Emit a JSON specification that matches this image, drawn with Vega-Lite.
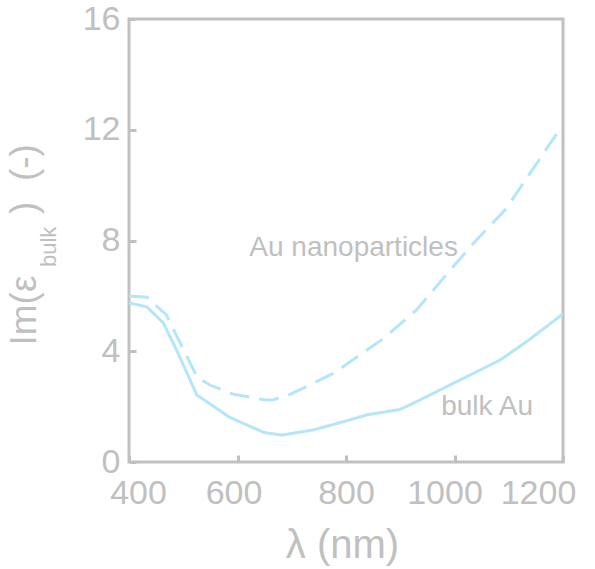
{
  "$schema": "https://vega.github.io/schema/vega-lite/v6.json",
  "width": 434,
  "height": 443,
  "autosize": {"type": "none"},
  "padding": {"left": 129, "top": 19, "right": 32, "bottom": 107},
  "background": "white",
  "config": {
    "font": "Liberation Sans",
    "view": {"stroke": "#c0c0c0", "strokeWidth": 3}
  },
  "datasets": {
    "curves": [
      {"wavelength": 400, "eps": 5.75, "series": "bulk Au"},
      {"wavelength": 433, "eps": 5.6, "series": "bulk Au"},
      {"wavelength": 463, "eps": 5.03, "series": "bulk Au"},
      {"wavelength": 490, "eps": 3.95, "series": "bulk Au"},
      {"wavelength": 525, "eps": 2.42, "series": "bulk Au"},
      {"wavelength": 586, "eps": 1.61, "series": "bulk Au"},
      {"wavelength": 648, "eps": 1.07, "series": "bulk Au"},
      {"wavelength": 681, "eps": 0.97, "series": "bulk Au"},
      {"wavelength": 740, "eps": 1.16, "series": "bulk Au"},
      {"wavelength": 807, "eps": 1.52, "series": "bulk Au"},
      {"wavelength": 838, "eps": 1.7, "series": "bulk Au"},
      {"wavelength": 900, "eps": 1.9, "series": "bulk Au"},
      {"wavelength": 930, "eps": 2.18, "series": "bulk Au"},
      {"wavelength": 1010, "eps": 2.96, "series": "bulk Au"},
      {"wavelength": 1084, "eps": 3.68, "series": "bulk Au"},
      {"wavelength": 1140, "eps": 4.45, "series": "bulk Au"},
      {"wavelength": 1200, "eps": 5.35, "series": "bulk Au"},
      {"wavelength": 400, "eps": 6.0, "series": "Au nanoparticles"},
      {"wavelength": 433, "eps": 5.95, "series": "Au nanoparticles"},
      {"wavelength": 469, "eps": 5.31, "series": "Au nanoparticles"},
      {"wavelength": 525, "eps": 3.08, "series": "Au nanoparticles"},
      {"wavelength": 549, "eps": 2.78, "series": "Au nanoparticles"},
      {"wavelength": 592, "eps": 2.45, "series": "Au nanoparticles"},
      {"wavelength": 651, "eps": 2.24, "series": "Au nanoparticles"},
      {"wavelength": 666, "eps": 2.25, "series": "Au nanoparticles"},
      {"wavelength": 697, "eps": 2.44, "series": "Au nanoparticles"},
      {"wavelength": 777, "eps": 3.2, "series": "Au nanoparticles"},
      {"wavelength": 869, "eps": 4.46, "series": "Au nanoparticles"},
      {"wavelength": 930, "eps": 5.49, "series": "Au nanoparticles"},
      {"wavelength": 992, "eps": 6.93, "series": "Au nanoparticles"},
      {"wavelength": 1035, "eps": 7.9, "series": "Au nanoparticles"},
      {"wavelength": 1093, "eps": 9.1, "series": "Au nanoparticles"},
      {"wavelength": 1140, "eps": 10.45, "series": "Au nanoparticles"},
      {"wavelength": 1190, "eps": 11.9, "series": "Au nanoparticles"}
    ],
    "labels": [
      {"wavelength": 814, "eps": 7.73, "text": "Au nanoparticles"},
      {"wavelength": 1060, "eps": 1.99, "text": "bulk Au"}
    ],
    "subscript": [
      {"wavelength": 265, "eps": 7.04, "text": "bulk"}
    ]
  },
  "layer": [
    {
      "data": {"name": "curves"},
      "mark": {"type": "line", "strokeWidth": 3, "color": "#b4e6f9", "clip": true},
      "encoding": {
        "x": {
          "field": "wavelength",
          "type": "quantitative",
          "scale": {"domain": [400, 1200], "nice": false, "zero": false},
          "axis": {
            "values": [400, 600, 800, 1000, 1200],
            "format": "d",
            "title": "λ (nm)",
            "titleFontSize": 40,
            "titleFontWeight": "normal",
            "titleColor": "#c0c0c0",
            "titleBaseline": "alphabetic",
            "titleAlign": "center",
            "titleX": 213,
            "titleY": 95,
            "labelFontSize": 34,
            "labelColor": "#c0c0c0",
            "labelPadding": 21,
            "labelOverlap": false,
            "labelFlush": false,
            "labelBound": false,
            "labelOffset": {
              "condition": [
                {"test": "datum.value == 400", "value": 9},
                {"test": "datum.value == 600", "value": -4},
                {"test": "datum.value == 1000", "value": -10},
                {"test": "datum.value == 1200", "value": -25}
              ],
              "value": 0
            },
            "tickSize": -7,
            "tickWidth": 3,
            "tickColor": "#c0c0c0",
            "domain": false,
            "grid": false
          }
        },
        "y": {
          "field": "eps",
          "type": "quantitative",
          "scale": {"domain": [0, 16], "nice": false},
          "axis": {
            "values": [0, 4, 8, 12, 16],
            "format": "d",
            "title": "Im(ε\u00a0\u00a0\u00a0\u00a0\u00a0\u00a0)\u00a0\u00a0(-)",
            "titleFontSize": 37,
            "titleFontWeight": "normal",
            "titleColor": "#c0c0c0",
            "titleAngle": 270,
            "titleAlign": "left",
            "titleBaseline": "alphabetic",
            "titleX": -94,
            "titleY": 326,
            "labelFontSize": 34,
            "labelColor": "#c0c0c0",
            "labelPadding": 16,
            "labelBaseline": "middle",
            "tickSize": -7,
            "tickWidth": 3,
            "tickColor": "#c0c0c0",
            "domain": false,
            "grid": false
          }
        },
        "strokeDash": {
          "field": "series",
          "type": "nominal",
          "scale": {"domain": ["bulk Au", "Au nanoparticles"], "range": [[1, 0], [20, 10]]},
          "legend": null
        }
      }
    },
    {
      "data": {"name": "labels"},
      "mark": {"type": "text", "fontSize": 28, "color": "#c0c0c0", "align": "center", "baseline": "middle"},
      "encoding": {
        "x": {"field": "wavelength", "type": "quantitative"},
        "y": {"field": "eps", "type": "quantitative"},
        "text": {"field": "text"}
      }
    },
    {
      "data": {"name": "subscript"},
      "mark": {"type": "text", "fontSize": 22, "color": "#c0c0c0", "align": "left", "baseline": "alphabetic", "angle": 270, "clip": false},
      "encoding": {
        "x": {"field": "wavelength", "type": "quantitative"},
        "y": {"field": "eps", "type": "quantitative"},
        "text": {"field": "text"}
      }
    }
  ]
}
